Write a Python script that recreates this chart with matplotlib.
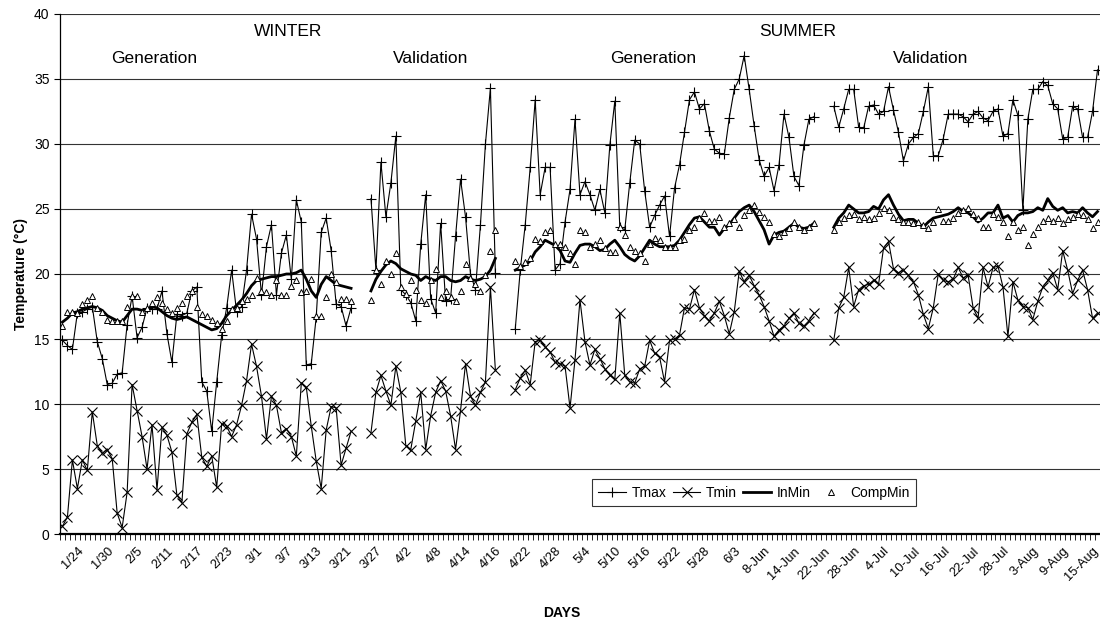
import numpy as np
import matplotlib.pyplot as plt
from matplotlib.lines import Line2D

plt.rcParams['font.family'] = ['Liberation Sans', 'DejaVu Sans']

# category axis: one slot per day, a label every 6th slot
n_days = 209
label_first = 3
label_step = 6
tick_labels = ['1/24', '1/30', '2/5', '2/11', '2/17', '2/23', '3/1', '3/7', '3/13', '3/21',
               '3/27', '4/2', '4/8', '4/14', '4/16', '4/22', '4/28', '5/4', '5/10', '5/16',
               '5/22', '5/28', '6/3', '8-Jun', '14-Jun', '22-Jun', '28-Jun', '4-Jul', '10-Jul',
               '16-Jul', '22-Jul', '28-Jul', '3-Aug', '9-Aug', '15-Aug']

# first slot of each period: winter generation / validation, summer generation / validation
seg_starts = [0, 62, 91, 155]

# ---- winter, generation ----
tmax_wg = [14.9, 14.5, 14.2, 17.0, 17.1, 17.3, 17.5, 14.8, 13.5, 11.5,
           11.6, 12.3, 12.4, 16.1, 18.3, 15.1, 15.9, 17.4, 17.3, 17.3,
           18.7, 15.4, 13.2, 16.9, 16.8, 17.0, 18.7, 19.0, 11.7, 11.0,
           7.9, 11.7, 15.3, 17.4, 20.3, 17.1, 17.5, 20.3, 24.6, 22.7,
           18.4, 22.1, 23.8, 18.4, 21.6, 23.0, 19.6, 25.7, 24.0, 13.0,
           13.1, 16.7, 23.2, 24.3, 21.8, 17.7, 17.5, 16.0, 17.4]
tmin_wg = [0.6, 1.3, 5.7, 3.5, 5.7, 4.9, 9.4, 6.8, 6.2, 6.5,
           5.8, 1.6, 0.5, 3.2, 11.5, 9.5, 7.5, 5.0, 8.4, 3.4,
           8.2, 7.6, 6.3, 3.0, 2.4, 7.7, 8.6, 9.2, 5.9, 5.2,
           6.0, 3.6, 8.5, 8.3, 7.5, 8.4, 9.9, 11.8, 14.6, 12.9,
           10.6, 7.3, 10.6, 9.9, 7.8, 8.1, 7.5, 6.0, 11.6, 11.3,
           8.3, 5.6, 3.5, 8.0, 9.8, 9.7, 5.3, 6.6, 7.9]
inmin_wg = [16.3, 16.6, 17.0, 17.1, 17.3, 17.4, 17.5, 17.4, 17.2, 16.8,
            16.6, 16.4, 16.3, 16.8, 17.3, 17.3, 17.2, 17.3, 17.5, 17.4,
            17.1, 16.8, 16.6, 16.5, 16.6, 16.7, 16.5, 16.3, 16.1, 15.9,
            15.7, 15.8, 16.2, 16.8, 17.2, 17.6, 18.0, 18.5, 19.1, 19.5,
            19.6, 19.7, 19.8, 19.8, 19.9, 20.0, 20.0, 20.1, 20.3, 19.6,
            18.7, 18.2, 19.2, 19.8, 19.5, 19.2, 19.1, 19.0, 18.9]
compmin_wg = [16.0, 17.1, 17.1, 17.0, 17.7, 18.0, 18.3, 17.4, 17.1, 16.5,
              16.4, 16.4, 16.4, 17.5, 18.3, 18.3, 17.1, 17.4, 17.8, 18.2,
              17.8, 17.3, 17.0, 17.4, 17.8, 18.3, 18.7, 17.5, 16.9, 16.8,
              16.5, 16.2, 15.8, 16.4, 17.3, 17.4, 17.9, 18.1, 18.4, 19.7,
              18.7, 18.6, 18.4, 19.5, 18.4, 18.4, 19.1, 19.5, 18.6, 18.7,
              19.6, 16.8, 16.8, 18.2, 20.0, 19.4, 18.1, 18.1, 17.9]

# ---- winter, validation ----
tmax_wv = [25.8, 20.3, 28.6, 24.4, 27.0, 30.6, 18.8, 18.4, 17.8, 16.4,
           22.3, 26.1, 18.1, 17.0, 23.9, 17.9, 18.1, 22.9, 27.3, 24.4,
           20.0, 18.8, 23.8, 30.0, 34.3, 20.1]
tmin_wv = [7.8, 10.9, 12.2, 11.0, 9.9, 12.9, 10.9, 6.8, 6.5, 8.7,
           10.9, 6.5, 9.1, 10.9, 11.8, 11.0, 9.1, 6.5, 9.5, 13.1,
           10.6, 9.9, 10.9, 11.7, 19.0, 12.6]
inmin_wv = [18.7, 19.6, 20.2, 20.7, 21.0, 20.8, 20.4, 20.2, 20.0, 19.9,
            19.5, 19.8, 19.6, 19.5, 19.8, 19.8, 19.5, 19.4, 19.5, 19.8,
            19.6, 19.5, 19.6, 19.8, 20.3, 21.2]
compmin_wv = [18.0, 20.3, 19.2, 21.0, 20.0, 21.6, 19.0, 18.5, 19.5, 18.8,
              18.0, 17.8, 19.5, 20.4, 18.2, 18.7, 18.2, 17.9, 18.7, 20.8,
              19.7, 19.2, 18.7, 19.9, 21.8, 23.4]

# ---- summer, generation ----
tmax_sg = [15.8, 20.3, 23.8, 28.2, 33.4, 26.1, 28.2, 28.2, 20.3, 20.8,
           24.0, 26.5, 31.9, 26.1, 27.1, 26.1, 24.9, 26.5, 24.7, 29.9,
           33.3, 23.6, 23.4, 27.0, 30.3, 30.0, 26.4, 23.6, 24.5, 25.3,
           26.0, 22.9, 26.6, 28.4, 30.9, 33.4, 34.0, 32.7, 33.1, 31.0,
           29.6, 29.3, 29.2, 32.0, 34.2, 35.0, 36.8, 34.2, 31.4, 28.8,
           27.5, 28.2, 26.4, 28.4, 32.3, 30.5, 27.5, 26.8, 29.9, 31.9,
           32.1]
tmin_sg = [11.1, 12.0, 12.6, 11.5, 14.8, 14.9, 14.4, 14.0, 13.2, 13.1,
           12.9, 9.7, 13.4, 18.0, 14.8, 13.0, 14.2, 13.5, 12.7, 12.2,
           11.9, 17.0, 12.2, 11.7, 11.6, 12.7, 12.9, 14.9, 13.9, 13.6,
           11.7, 14.9, 15.0, 15.3, 17.4, 17.3, 18.8, 17.4, 16.8, 16.4,
           17.0, 17.9, 16.8, 15.4, 17.1, 20.2, 19.4, 19.9, 19.1, 18.4,
           17.5, 16.4, 15.2, 15.7, 16.0, 16.6, 17.0, 16.2, 16.0, 16.4,
           17.0]
inmin_sg = [20.3, 20.5, 20.7, 21.0, 21.7, 22.1, 22.6, 22.4, 22.2, 21.8,
            21.0, 20.9, 21.6, 22.2, 22.3, 22.3, 22.1, 21.8, 21.9, 22.3,
            22.6, 22.1, 21.5, 21.2, 21.0, 21.4, 22.0, 22.6, 22.3, 22.1,
            22.1, 22.1, 22.2, 22.6, 23.2, 23.8, 24.3, 24.4, 24.0, 23.6,
            23.6, 23.0, 23.5, 23.8, 24.3, 24.8, 25.1, 25.3, 24.8, 24.1,
            23.4, 22.3, 23.0, 23.2, 23.3, 23.6, 23.9, 23.6, 23.5, 23.6,
            23.9]
compmin_sg = [21.0, 20.6, 20.9, 21.2, 22.7, 22.5, 23.2, 23.4, 22.3, 22.3,
              22.1, 21.6, 20.8, 23.4, 23.2, 22.1, 22.3, 22.6, 22.0, 21.7,
              21.7, 23.6, 23.0, 22.1, 21.8, 21.6, 21.0, 22.3, 22.8, 22.6,
              22.1, 22.1, 22.1, 22.6, 22.7, 23.4, 23.6, 24.3, 24.7, 24.1,
              24.1, 24.4, 23.6, 23.9, 24.2, 23.6, 24.5, 24.9, 25.3, 24.8,
              24.4, 24.0, 23.1, 22.9, 23.2, 23.5, 24.0, 23.6, 23.4, 23.6,
              23.9]

# ---- summer, validation ----
tmax_sv = [32.9, 31.3, 32.7, 34.2, 34.2, 31.3, 31.2, 32.9, 33.0, 32.3,
           32.5, 34.4, 32.6, 30.9, 28.7, 30.0, 30.5, 30.8, 32.5, 34.4,
           29.1, 29.1, 30.4, 32.3, 32.3, 32.3, 32.1, 31.7, 32.3, 32.5,
           32.0, 31.8, 32.5, 32.7, 30.6, 30.8, 33.4, 32.2, 24.9, 31.9,
           34.2, 34.2, 34.8, 34.5, 33.1, 32.7, 30.4, 30.5, 32.9, 32.7,
           30.5, 30.5, 32.5, 35.7]
tmin_sv = [14.9, 17.4, 18.2, 20.5, 17.5, 18.8, 19.1, 19.2, 19.5, 19.2,
           22.0, 22.5, 20.4, 20.1, 20.3, 19.9, 19.4, 18.4, 16.9, 15.8,
           17.4, 20.0, 19.5, 19.4, 19.6, 20.5, 19.7, 19.9, 17.4, 16.6,
           20.5, 19.0, 20.5, 20.6, 19.0, 15.2, 19.4, 18.0, 17.5, 17.4,
           16.5, 17.9, 19.0, 19.5, 20.1, 18.8, 21.8, 20.3, 18.5, 19.5,
           20.3, 18.8, 16.6, 17.0]
inmin_sv = [23.6, 24.3, 24.7, 25.3, 25.0, 24.7, 24.7, 24.8, 25.2, 25.0,
            25.7, 26.1, 25.3, 24.6, 24.1, 24.2, 24.2, 23.9, 23.6, 24.0,
            24.3, 24.4, 24.5, 24.6, 24.8, 25.1, 24.8, 24.7, 24.4, 24.0,
            24.3, 24.7, 24.7, 25.3, 24.3, 24.5, 24.0, 24.5, 24.7, 24.7,
            24.8, 25.1, 24.9, 25.8, 25.2, 24.9, 25.1, 24.7, 24.8, 24.7,
            25.1, 24.7, 24.4, 24.8]
compmin_sv = [23.4, 24.0, 24.3, 24.5, 24.6, 24.2, 24.4, 24.2, 24.3, 24.7,
              25.1, 24.9, 24.4, 24.2, 24.0, 24.0, 23.9, 24.0, 23.8, 23.5,
              24.0, 25.0, 24.1, 24.1, 24.3, 24.7, 24.9, 25.1, 24.6, 24.3,
              23.6, 23.6, 24.6, 24.4, 24.0, 22.9, 24.0, 23.4, 23.6, 22.2,
              23.1, 23.6, 24.1, 24.3, 24.1, 24.3, 23.9, 24.2, 24.4, 24.6,
              24.5, 24.2, 23.5, 24.0]


def build(*segments):
    """Place each period's values on the day axis; the gaps stay NaN."""
    arr = np.full(n_days, np.nan)
    for start, vals in zip(seg_starts, segments):
        arr[start:start + len(vals)] = vals
    return arr


tmax = build(tmax_wg, tmax_wv, tmax_sg, tmax_sv)
tmin = build(tmin_wg, tmin_wv, tmin_sg, tmin_sv)
inmin = build(inmin_wg, inmin_wv, inmin_sg, inmin_sv)
compmin = build(compmin_wg, compmin_wv, compmin_sg, compmin_sv)
days = np.arange(n_days)

fig = plt.figure(figsize=(11, 6.27), dpi=100)
ax = fig.add_axes([0.0545, 0.1483, 0.9455, 0.8294])

ax.plot(days, tmax, color='black', lw=0.8, marker='+', ms=7.5, mew=0.8)
ax.plot(days, tmin, color='black', lw=0.8, marker='x', ms=6.5, mew=0.8)
ax.plot(days, inmin, color='black', lw=2.0)
ax.plot(days, compmin, ls='none', marker='^', ms=4.2, mfc='white', mec='black', mew=0.7)

ax.set_xlim(-0.5, n_days - 0.5)
ax.set_ylim(0, 40)
ax.set_yticks(np.arange(0, 41, 5))
ax.yaxis.grid(True, color='#333333', lw=0.8)
ax.set_axisbelow(True)

ax.set_xticks(np.arange(label_first, n_days, label_step))
ax.set_xticklabels(tick_labels, rotation=45, ha='right', rotation_mode='anchor', fontsize=9.3)
ax.set_xticks(np.arange(-0.5, n_days, 1), minor=True)
ax.tick_params(axis='x', which='major', length=0, pad=8)
ax.tick_params(axis='x', which='minor', length=4, width=0.6, direction='out')
ax.tick_params(axis='y', labelsize=10, length=4, width=0.8)

for side in ['top', 'right']:
    ax.spines[side].set_visible(False)
ax.spines['bottom'].set_linewidth(1.6)
ax.spines['left'].set_linewidth(0.9)

ax.set_ylabel('Temperature (°C)', fontsize=10, fontweight='bold')
ax.yaxis.set_label_coords(-0.031, 0.5)
ax.set_xlabel('DAYS', fontsize=10, fontweight='bold')
ax.xaxis.set_label_coords(0.482, -0.138)

# period captions
for x, y, s in [(0.219, 0.967, 'WINTER'), (0.709, 0.967, 'SUMMER'),
                (0.0904, 0.915, 'Generation'), (0.356, 0.915, 'Validation'),
                (0.570, 0.915, 'Generation'), (0.8375, 0.915, 'Validation')]:
    ax.text(x, y, s, transform=ax.transAxes, ha='center', va='center', fontsize=12.5)

handles = [
    Line2D([], [], color='black', lw=0.8, marker='+', ms=7.5, mew=0.8),
    Line2D([], [], color='black', lw=0.8, marker='x', ms=6.5, mew=0.8),
    Line2D([], [], color='black', lw=2.0),
    Line2D([], [], ls='none', marker='^', ms=4.2, mfc='white', mec='black', mew=0.7),
]
leg = ax.legend(handles, ['Tmax', 'Tmin', 'InMin', 'CompMin'], ncol=4,
                loc='lower left', bbox_to_anchor=(0.5115, 0.054, 0.3115, 0.05),
                mode='expand', borderaxespad=0, fontsize=10, frameon=True, fancybox=False,
                borderpad=0.45, handlelength=2.0, handletextpad=0.4, columnspacing=0.8)
leg.get_frame().set_edgecolor('black')
leg.get_frame().set_linewidth(0.8)

fig.savefig('out.png', dpi=100)
